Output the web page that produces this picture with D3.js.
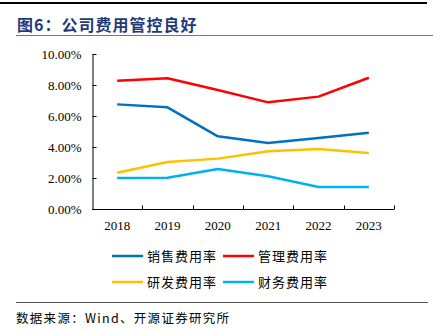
<!DOCTYPE html>
<html>
<head>
<meta charset="utf-8">
<script src="https://cdn.jsdelivr.net/npm/d3@7"></script>
<style>
  html, body { margin: 0; padding: 0; background: #fff; }
  svg { display: block; }
</style>
</head>
<body>
<svg id="chart" width="433" height="334"></svg>
<script>
// Expense ratios by year (%)
const years = ["2018", "2019", "2020", "2021", "2022", "2023"];
const sellingRate = [6.75, 6.56, 4.69, 4.26, 4.58, 4.92];
const adminRate   = [8.28, 8.43, 7.68, 6.88, 7.25, 8.47];
const rdRate      = [2.34, 3.03, 3.25, 3.72, 3.87, 3.61];
const financeRate = [2.00, 2.02, 2.58, 2.11, 1.42, 1.42];
const yTicks = [0, 2, 4, 6, 8, 10];

const seriesNames  = ["销售费用率", "管理费用率", "研发费用率", "财务费用率"];
const seriesValues = [sellingRate, adminRate, rdRate, financeRate];
const seriesColors = ["#0070C0", "#FF0000", "#FFC000", "#00B0F0"];

const svg = d3.select("#chart");
const serif = "'Liberation Serif', 'Times New Roman', serif";
const cjk = "'Noto Sans CJK SC', sans-serif";

// Header rule and title
svg.append("line").attr("x1", 0).attr("x2", 427).attr("y1", 3).attr("y2", 3)
  .attr("stroke", "#000").attr("stroke-width", 2);
svg.append("text").attr("x", 17).attr("y", 31)
  .attr("font-family", cjk).attr("font-weight", "bold").attr("font-size", 16)
  .attr("letter-spacing", 1).attr("fill", "#1F3A7A").text("图6：公司费用管控良好");
svg.append("line").attr("x1", 16).attr("x2", 433).attr("y1", 35.5).attr("y2", 35.5)
  .attr("stroke", "#777").attr("stroke-width", 1);

// Scales
const x = d3.scaleBand().domain(years).range([92, 394]);
const y = d3.scaleLinear().domain([0, 10]).range([209, 54]);

// Y axis
const yAxis = d3.axisLeft(y).tickValues(yTicks).tickSizeInner(-4).tickSizeOuter(0)
  .tickPadding(11).tickFormat(d => d.toFixed(2) + "%");
const gy = svg.append("g").attr("transform", "translate(92.5,0)").call(yAxis);
gy.select(".domain").attr("stroke", "#000");
gy.selectAll(".tick line").attr("stroke", "#000");
gy.selectAll(".tick text").attr("font-family", serif).attr("font-size", 13).attr("fill", "#000");

// X axis with tick marks at band boundaries
const gx = svg.append("g").attr("transform", "translate(0,209.5)");
gx.append("line").attr("x1", 92).attr("x2", 394).attr("stroke", "#000");
const bounds = years.map(d => x(d)).concat([x.range()[1]]).slice(1);
gx.selectAll("line.tk").data(bounds).enter().append("line").attr("class", "tk")
  .attr("x1", d => Math.round(d) + 0.5).attr("x2", d => Math.round(d) + 0.5)
  .attr("y1", 0).attr("y2", -4).attr("stroke", "#000");
gx.selectAll("text").data(years).enter().append("text")
  .attr("x", d => x(d) + x.bandwidth() / 2).attr("y", 20)
  .attr("text-anchor", "middle").attr("font-family", serif).attr("font-size", 13)
  .text(d => d);

// Lines
const line = d3.line()
  .x((d, i) => x(years[i]) + x.bandwidth() / 2)
  .y(d => y(d));
seriesValues.forEach((vals, i) => {
  svg.append("path").datum(vals).attr("d", line)
    .attr("fill", "none").attr("stroke", seriesColors[i]).attr("stroke-width", 2.5)
    .attr("stroke-linejoin", "round");
});

// Legend (2 x 2)
const legendPos = [[112, 256], [223, 256], [112, 282], [223, 282]];
seriesNames.forEach((name, i) => {
  const [lx, ly] = legendPos[i];
  svg.append("line").attr("x1", lx).attr("x2", lx + 31).attr("y1", ly).attr("y2", ly)
    .attr("stroke", seriesColors[i]).attr("stroke-width", 2.5);
  svg.append("text").attr("x", lx + 35).attr("y", ly + 4.5)
    .attr("font-family", cjk).attr("font-size", 13).attr("fill", "#000")
    .attr("letter-spacing", 1).text(name);
});

// Footer
svg.append("line").attr("x1", 16).attr("x2", 428).attr("y1", 302.5).attr("y2", 302.5)
  .attr("stroke", "#555").attr("stroke-width", 1);
svg.append("text").attr("x", 16).attr("y", 323)
  .attr("font-family", cjk).attr("font-size", 12.5).attr("fill", "#000")
  .attr("letter-spacing", 1.3).text("数据来源：Wind、开源证券研究所");
</script>
</body>
</html>
